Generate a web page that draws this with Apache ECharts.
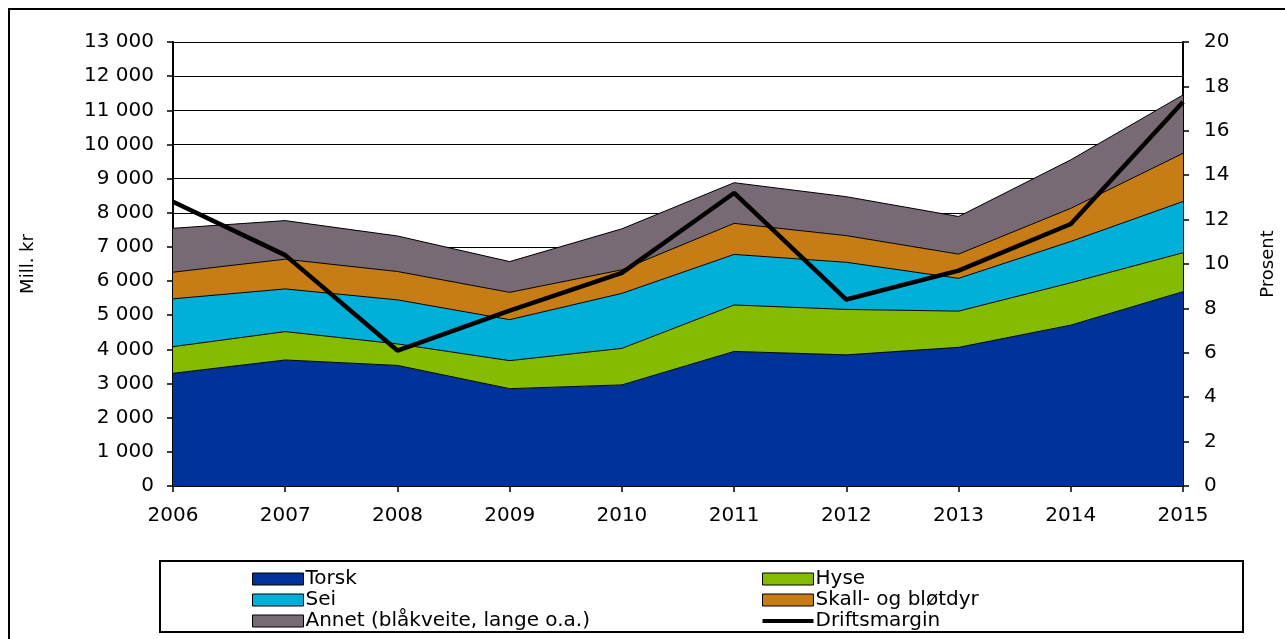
<!DOCTYPE html>
<html>
<head>
<meta charset="utf-8">
<script src="https://cdn.jsdelivr.net/npm/echarts@6/dist/echarts.min.js"></script>
<style>
html,body{margin:0;padding:0;background:#fff;}
#chart{width:1285px;height:639px;}
</style>
</head>
<body>
<div id="chart"></div>
<script>
var years = ['2006','2007','2008','2009','2010','2011','2012','2013','2014','2015'];
// Mill. kr, stacked
var torsk  = [3300, 3690, 3530, 2850, 2960, 3940, 3840, 4060, 4710, 5690];
var hyse   = [780, 830, 630, 820, 1070, 1360, 1330, 1060, 1240, 1140];
var sei    = [1400, 1250, 1290, 1200, 1610, 1480, 1380, 960, 1210, 1500];
var skall  = [780, 870, 830, 800, 690, 910, 780, 710, 970, 1410];
var annet  = [1285, 1130, 1040, 900, 1200, 1190, 1140, 1100, 1420, 1710];
// Prosent
var driftsmargin = [12.8, 10.4, 6.1, 7.9, 9.6, 13.2, 8.4, 9.7, 11.8, 17.3];

var font = 'DejaVu Sans';

function areaSeries(name, data, color) {
    return {
        name: name,
        type: 'line',
        stack: 'total',
        data: data,
        symbol: 'none',
        itemStyle: {color: color},
        lineStyle: {color: '#000', width: 1},
        areaStyle: {color: color, opacity: 1}
    };
}

function legendItem(name, color) {
    return {name: name, icon: 'rect', itemStyle: {color: color, borderColor: '#000', borderWidth: 1}};
}
var lineIcon = 'path://M0,0 L51,0 L51,4 L0,4 Z';

var chart = echarts.init(document.getElementById('chart'));
chart.setOption({
    animation: false,
    textStyle: {fontFamily: font},
    grid: {left: 173, right: 97, top: 42, bottom: 153},
    legend: [
        {
            orient: 'vertical',
            left: 247,
            top: 564,
            itemWidth: 51,
            itemHeight: 12,
            itemGap: 1,
            textStyle: {fontFamily: font, fontSize: 20, color: '#000', padding: [0, 0, 0, -3]},
            data: [
                legendItem('Torsk', '#003399'),
                legendItem('Sei', '#00b0d8'),
                legendItem('Annet (blåkveite, lange o.a.)', '#776a74')
            ]
        },
        {
            orient: 'vertical',
            left: 757,
            top: 564,
            itemWidth: 51,
            itemHeight: 12,
            itemGap: 1,
            textStyle: {fontFamily: font, fontSize: 20, color: '#000', padding: [0, 0, 0, -3]},
            data: [
                legendItem('Hyse', '#83bc00'),
                legendItem('Skall- og bløtdyr', '#c77c16'),
                {name: 'Driftsmargin', icon: lineIcon, itemStyle: {color: '#000', borderWidth: 0}}
            ]
        }
    ],
    xAxis: {
        type: 'category',
        boundaryGap: false,
        data: years,
        axisLine: {lineStyle: {color: '#000', width: 2}},
        axisTick: {show: true, length: 6, lineStyle: {color: '#000', width: 1.5}},
        axisLabel: {color: '#000', fontSize: 20, margin: 20}
    },
    yAxis: [
        {
            type: 'value',
            min: 0,
            max: 13000,
            interval: 1000,
            name: 'Mill. kr',
            nameLocation: 'middle',
            nameGap: 136,
            nameTextStyle: {color: '#000', fontSize: 18},
            axisLine: {show: true, lineStyle: {color: '#000', width: 2}},
            axisTick: {show: true, length: 6, lineStyle: {color: '#000', width: 1.5}},
            splitLine: {show: true, lineStyle: {color: '#000', width: 1}},
            axisLabel: {
                color: '#000', fontSize: 20, margin: 19,
                formatter: function (v) {
                    return String(v).replace(/\B(?=(\d{3})+(?!\d))/g, ' ');
                }
            }
        },
        {
            type: 'value',
            min: 0,
            max: 20,
            interval: 2,
            name: 'Prosent',
            nameLocation: 'middle',
            nameGap: 76,
            nameTextStyle: {color: '#000', fontSize: 18},
            axisLine: {show: true, lineStyle: {color: '#000', width: 2}},
            axisTick: {show: true, length: 6, lineStyle: {color: '#000', width: 1.5}},
            splitLine: {show: false},
            axisLabel: {color: '#000', fontSize: 20, margin: 21}
        }
    ],
    graphic: [
        {
            type: 'rect',
            shape: {x: 9, y: 9, width: 1300, height: 700},
            style: {fill: 'none', stroke: '#000', lineWidth: 2},
            silent: true
        },
        {
            type: 'rect',
            shape: {x: 160, y: 561, width: 1083, height: 71},
            style: {fill: 'none', stroke: '#000', lineWidth: 2},
            silent: true
        }
    ],
    series: [
        areaSeries('Torsk', torsk, '#003399'),
        areaSeries('Hyse', hyse, '#83bc00'),
        areaSeries('Sei', sei, '#00b0d8'),
        areaSeries('Skall- og bløtdyr', skall, '#c77c16'),
        areaSeries('Annet (blåkveite, lange o.a.)', annet, '#776a74'),
        {
            name: 'Driftsmargin',
            type: 'line',
            yAxisIndex: 1,
            data: driftsmargin,
            symbol: 'none',
            z: 10,
            itemStyle: {color: '#000'},
            lineStyle: {color: '#000', width: 4.5}
        }
    ]
});
</script>
</body>
</html>
